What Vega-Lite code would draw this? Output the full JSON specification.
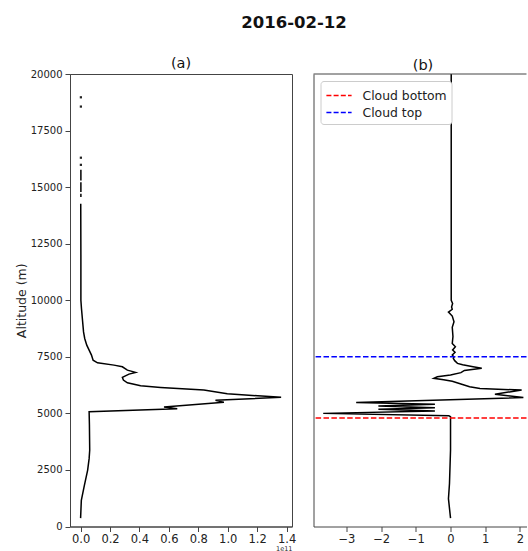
{
  "$schema": "https://vega.github.io/schema/vega-lite/v6.json",
  "padding": {"left": 14, "top": 14, "right": 0, "bottom": 0},
  "background": "white",
  "config": {
    "font": "DejaVu Sans",
    "view": {"stroke": "#444", "strokeWidth": 1},
    "axis": {"domainColor": "#444", "tickColor": "#444", "labelColor": "#222", "titleColor": "#222", "grid": false, "tickSize": 5, "labelFont": "DejaVu Sans", "titleFont": "DejaVu Sans", "titleFontWeight": "normal", "labelOverlap": false, "tickCount": 12},
    "title": {"font": "DejaVu Sans", "color": "#111"}
  },
  "title": {"text": "2016-02-12", "fontSize": 16.5, "fontWeight": "bold", "anchor": "middle", "frame": "bounds", "offset": 24, "dx": 23},
  "resolve": {"legend": {"color": "independent"}, "scale": {"color": "independent"}},
  "datasets": {
    "profileA": [
      {"alt": 370, "v": 0.0, "seg": 1},
      {"alt": 1156, "v": 0.005, "seg": 1},
      {"alt": 1800, "v": 0.025, "seg": 1},
      {"alt": 2492, "v": 0.048, "seg": 1},
      {"alt": 3000, "v": 0.058, "seg": 1},
      {"alt": 3383, "v": 0.062, "seg": 1},
      {"alt": 4500, "v": 0.06, "seg": 1},
      {"alt": 5073, "v": 0.058, "seg": 1},
      {"alt": 5205, "v": 0.657, "seg": 1},
      {"alt": 5280, "v": 0.567, "seg": 1},
      {"alt": 5487, "v": 0.974, "seg": 1},
      {"alt": 5575, "v": 0.917, "seg": 1},
      {"alt": 5708, "v": 1.363, "seg": 1},
      {"alt": 5867, "v": 0.997, "seg": 1},
      {"alt": 6030, "v": 0.838, "seg": 1},
      {"alt": 6149, "v": 0.544, "seg": 1},
      {"alt": 6220, "v": 0.408, "seg": 1},
      {"alt": 6352, "v": 0.318, "seg": 1},
      {"alt": 6471, "v": 0.291, "seg": 1},
      {"alt": 6590, "v": 0.284, "seg": 1},
      {"alt": 6736, "v": 0.329, "seg": 1},
      {"alt": 6811, "v": 0.374, "seg": 1},
      {"alt": 6912, "v": 0.318, "seg": 1},
      {"alt": 7058, "v": 0.284, "seg": 1},
      {"alt": 7133, "v": 0.227, "seg": 1},
      {"alt": 7234, "v": 0.115, "seg": 1},
      {"alt": 7353, "v": 0.085, "seg": 1},
      {"alt": 7574, "v": 0.074, "seg": 1},
      {"alt": 7794, "v": 0.058, "seg": 1},
      {"alt": 8015, "v": 0.042, "seg": 1},
      {"alt": 8310, "v": 0.028, "seg": 1},
      {"alt": 8602, "v": 0.02, "seg": 1},
      {"alt": 9118, "v": 0.013, "seg": 1},
      {"alt": 9634, "v": 0.006, "seg": 1},
      {"alt": 10000, "v": 0.002, "seg": 1},
      {"alt": 12000, "v": 0.002, "seg": 1},
      {"alt": 14265, "v": 0.001, "seg": 1},
      {"alt": 14560, "v": 0.002, "seg": 2},
      {"alt": 14710, "v": 0.002, "seg": 2},
      {"alt": 14780, "v": 0.002, "seg": 3},
      {"alt": 15220, "v": 0.002, "seg": 3},
      {"alt": 15290, "v": 0.002, "seg": 4},
      {"alt": 15770, "v": 0.002, "seg": 4}
    ],
    "dotsA": [
      {"alt": 15985, "v": 0.002},
      {"alt": 16300, "v": 0.002},
      {"alt": 18560, "v": 0.002},
      {"alt": 18970, "v": 0.002}
    ],
    "profileB": [
      {"alt": 370, "v": 0.0},
      {"alt": 1230, "v": -0.06},
      {"alt": 1900, "v": -0.03},
      {"alt": 3380, "v": 0.0},
      {"alt": 4850, "v": 0.0},
      {"alt": 4900, "v": -0.05},
      {"alt": 5000, "v": -3.67},
      {"alt": 5110, "v": -0.45},
      {"alt": 5180, "v": -2.08},
      {"alt": 5250, "v": -0.45},
      {"alt": 5330, "v": -2.08},
      {"alt": 5400, "v": -0.45},
      {"alt": 5480, "v": -2.72},
      {"alt": 5700, "v": 2.1},
      {"alt": 5850, "v": 1.28},
      {"alt": 6030, "v": 2.05},
      {"alt": 6100, "v": 0.85},
      {"alt": 6180, "v": 0.55},
      {"alt": 6300, "v": 0.3},
      {"alt": 6420, "v": 0.05},
      {"alt": 6490, "v": -0.2},
      {"alt": 6550, "v": -0.48},
      {"alt": 6620, "v": -0.38},
      {"alt": 6700, "v": 0.0},
      {"alt": 6800, "v": 0.3},
      {"alt": 6900, "v": 0.4},
      {"alt": 6990, "v": 0.9},
      {"alt": 7060, "v": 0.65},
      {"alt": 7150, "v": 0.35},
      {"alt": 7210, "v": 0.2},
      {"alt": 7330, "v": 0.12},
      {"alt": 7430, "v": 0.08},
      {"alt": 7500, "v": 0.1},
      {"alt": 7580, "v": 0.05},
      {"alt": 7700, "v": 0.13},
      {"alt": 7800, "v": 0.06},
      {"alt": 7940, "v": 0.14},
      {"alt": 8090, "v": 0.05},
      {"alt": 8400, "v": 0.07},
      {"alt": 8800, "v": 0.05},
      {"alt": 9050, "v": 0.1},
      {"alt": 9300, "v": 0.05},
      {"alt": 9480, "v": -0.06},
      {"alt": 9600, "v": 0.05},
      {"alt": 9700, "v": 0.03},
      {"alt": 9855, "v": 0.06},
      {"alt": 10000, "v": 0.02},
      {"alt": 14000, "v": 0.02},
      {"alt": 20000, "v": 0.02}
    ],
    "clouds": [
      {"name": "Cloud bottom", "alt": 4795},
      {"name": "Cloud top", "alt": 7500}
    ]
  },
  "hconcat": [
    {
      "width": 222,
      "height": 452.5,
      "title": {"text": "(a)", "fontSize": 14.5, "fontWeight": "normal", "offset": -2},
      "layer": [
        {
          "data": {"name": "profileA"},
          "mark": {"type": "line", "color": "black", "strokeWidth": 1.5},
          "encoding": {
            "x": {"field": "v", "type": "quantitative", "scale": {"domain": [-0.072, 1.437], "nice": false, "zero": false},
                  "axis": {"values": [0, 0.2, 0.4, 0.6, 0.8, 1.0, 1.2, 1.4], "tickCount": 12, "labelOverlap": false, "format": ".1f", "labelFontSize": 11.5, "labelPadding": 1.5, "title": "1e11", "titleFontSize": 6.5, "titleAnchor": "end", "titlePadding": 0.5}},
            "y": {"field": "alt", "type": "quantitative", "scale": {"domain": [0, 20000], "nice": false},
                  "axis": {"values": [0, 2500, 5000, 7500, 10000, 12500, 15000, 17500, 20000], "tickCount": 12, "format": "d", "labelFontSize": 10, "labelPadding": 3, "title": "Altitude (m)", "titleFontSize": 12.5, "titlePadding": 2}},
            "order": {"field": "alt", "type": "quantitative"},
            "detail": {"field": "seg", "type": "nominal"}
          }
        },
        {
          "data": {"name": "dotsA"},
          "mark": {"type": "point", "shape": "square", "filled": true, "size": 5, "color": "#222", "opacity": 1},
          "encoding": {
            "x": {"field": "v", "type": "quantitative"},
            "y": {"field": "alt", "type": "quantitative"}
          }
        }
      ]
    },
    {
      "width": 213,
      "height": 452.5,
      "view": {"stroke": null},
      "title": {"text": "(b)", "fontSize": 14.5, "fontWeight": "normal", "offset": -2, "dx": 3},
      "layer": [
        {
          "data": {"name": "profileB"},
          "mark": {"type": "line", "color": "black", "strokeWidth": 1.5},
          "encoding": {
            "x": {"field": "v", "type": "quantitative", "scale": {"domain": [-3.95, 2.19], "nice": false, "zero": false},
                  "axis": {"values": [-3, -2, -1, 0, 1, 2], "tickCount": 12, "format": "d", "labelFontSize": 11.5, "labelPadding": 1.5, "title": null}},
            "y": {"field": "alt", "type": "quantitative", "scale": {"domain": [0, 20000], "nice": false},
                  "axis": {"labels": false, "ticks": false, "title": null, "domain": true}},
            "order": {"field": "alt", "type": "quantitative"}
          }
        },
        {
          "data": {"values": [{"alt": 20000}]},
          "mark": {"type": "rule", "color": "#444", "strokeWidth": 1},
          "encoding": {"y": {"field": "alt", "type": "quantitative"}}
        },
        {
          "data": {"name": "clouds"},
          "mark": {"type": "rule", "strokeWidth": 1.5, "strokeDash": [5.5, 2.4]},
          "encoding": {
            "y": {"field": "alt", "type": "quantitative"},
            "color": {"field": "name", "type": "nominal",
                      "scale": {"domain": ["Cloud bottom", "Cloud top"], "range": ["red", "blue"]},
                      "legend": {"title": null, "orient": "top-left", "offset": 7, "fillColor": "white", "strokeColor": "#ccc", "cornerRadius": 3, "padding": 4.5, "labelFontSize": 12.4, "labelColor": "#222", "symbolType": "M-1.4,0H1.4", "symbolSize": 324, "symbolStrokeWidth": 1.5, "symbolDash": [5, 2.2], "symbolOffset": 4, "rowPadding": -0.3, "labelOffset": 13.5}}
          }
        }
      ]
    }
  ],
  "spacing": 15.5
}
